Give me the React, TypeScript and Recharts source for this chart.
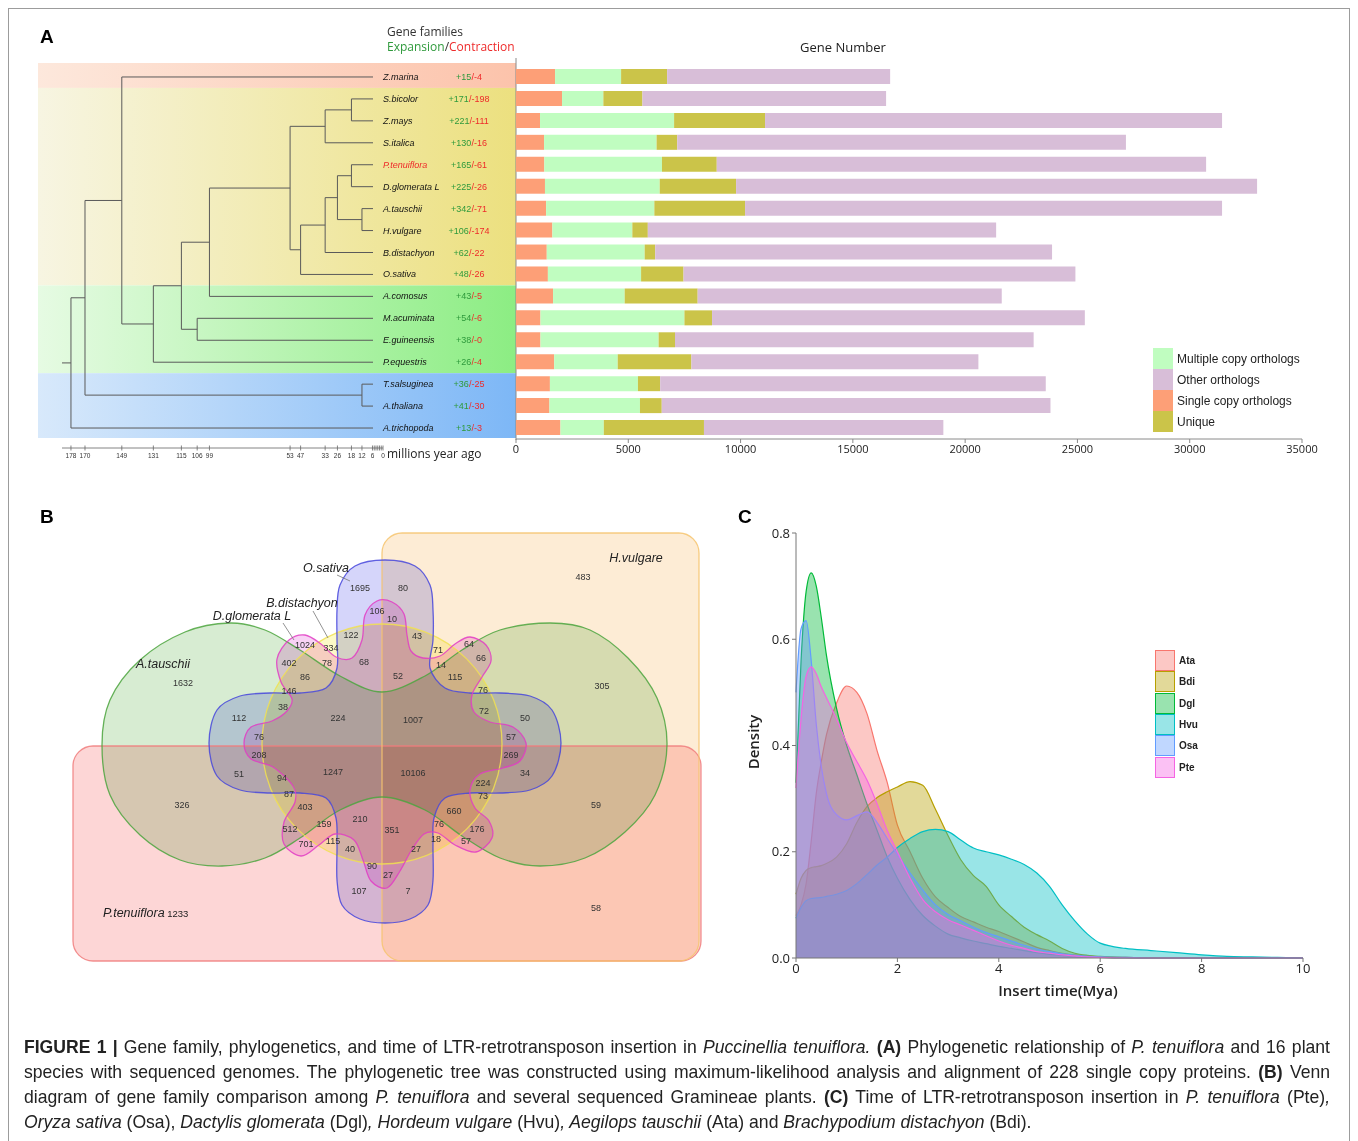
import React from "react";
import { BarChart, Bar, XAxis, YAxis, AreaChart, Area } from "recharts";

const SANS = "'Liberation Sans', Arial, sans-serif";
const UI = "'Open Sans', 'Noto Sans', sans-serif";

// ---------- panel A: gene number per species ----------
const species = [
  "Z.marina", "S.bicolor", "Z.mays", "S.italica", "P.tenuiflora", "D.glomerata L",
  "A.tauschii", "H.vulgare", "B.distachyon", "O.sativa", "A.comosus", "M.acuminata",
  "E.guineensis", "P.equestris", "T.salsuginea", "A.thaliana", "A.trichopoda",
];
const expansion = [15, 171, 221, 130, 165, 225, 342, 106, 62, 48, 43, 54, 38, 26, 36, 41, 13];
const contraction = [4, 198, 111, 16, 61, 26, 71, 174, 22, 26, 5, 6, 0, 4, 25, 30, 3];
const singleCopy = [1740, 2050, 1070, 1250, 1260, 1290, 1340, 1620, 1370, 1420, 1650, 1090, 1090, 1700, 1510, 1490, 1980];
const multipleCopy = [2940, 1840, 5970, 5010, 5240, 5110, 4820, 3560, 4360, 4150, 3190, 6410, 5260, 2830, 3920, 4030, 1930];
const uniqueGenes = [2050, 1740, 4050, 920, 2440, 3400, 4040, 690, 470, 1890, 3250, 1230, 730, 3280, 990, 970, 4460];
const otherOrthologs = [9930, 10850, 20350, 19980, 21790, 23200, 21240, 15510, 17670, 17450, 13540, 16600, 15970, 12780, 17170, 17310, 10660];
const geneTicks = [0, 5000, 10000, 15000, 20000, 25000, 30000, 35000];

// tree: [node, childA, childB, age in Mya]
const treeJoins: [string, string, string, number][] = [
  ["n1", "S.bicolor", "Z.mays", 18],
  ["n2", "n1", "S.italica", 33],
  ["n3", "P.tenuiflora", "D.glomerata L", 18],
  ["n4", "A.tauschii", "H.vulgare", 12],
  ["n5", "n3", "n4", 26],
  ["n6", "n5", "B.distachyon", 33],
  ["n7", "n6", "O.sativa", 47],
  ["n8", "n2", "n7", 53],
  ["n9", "n8", "A.comosus", 99],
  ["n10", "M.acuminata", "E.guineensis", 106],
  ["n11", "n9", "n10", 115],
  ["n12", "n11", "P.equestris", 131],
  ["n13", "Z.marina", "n12", 149],
  ["n14", "T.salsuginea", "A.thaliana", 12],
  ["n15", "n13", "n14", 170],
  ["root", "n15", "A.trichopoda", 178],
];
const timeTicks = [178, 170, 149, 131, 115, 106, 99, 53, 47, 33, 26, 18, 12, 6, 0];
const minorTimeTicks = [5, 4, 3, 2, 1];

// ---------- panel B: venn counts ----------
const vennCounts = [
  1695, 80, 106, 10, 1024, 334, 122, 43, 71, 64, 66, 402, 78, 68, 52, 14, 115, 1632, 86, 146,
  76, 305, 38, 224, 1007, 72, 50, 112, 76, 57, 208, 269, 1247, 10106, 34, 51, 94, 224, 87, 73,
  326, 59, 403, 660, 210, 159, 512, 351, 76, 176, 701, 115, 40, 18, 57, 27, 90, 27, 107, 7, 483, 58,
];

// ---------- panel C: LTR insertion time density ----------
const insertTime = [0, 0.1, 0.2, 0.3, 0.4, 0.5, 0.6, 0.8, 1.0, 1.2, 1.4, 1.6, 1.8, 2.0, 2.25, 2.5, 2.75, 3.0, 3.25, 3.5, 3.75, 4.0, 4.25, 4.5, 4.75, 5.0, 5.25, 5.5, 5.75, 6.0, 6.5, 7.0, 7.5, 8.0, 8.5, 9.0, 9.5, 10];
const ata = [0.08, 0.1, 0.14, 0.22, 0.31, 0.37, 0.42, 0.48, 0.512, 0.5, 0.46, 0.39, 0.33, 0.25, 0.2, 0.15, 0.115, 0.095, 0.078, 0.068, 0.058, 0.05, 0.04, 0.03, 0.02, 0.014, 0.009, 0.006, 0.004, 0.002, 0.001, 0, 0, 0, 0, 0, 0, 0];
const bdi = [0.12, 0.15, 0.165, 0.17, 0.172, 0.174, 0.178, 0.19, 0.215, 0.255, 0.285, 0.302, 0.313, 0.322, 0.332, 0.325, 0.28, 0.23, 0.185, 0.155, 0.135, 0.1, 0.078, 0.058, 0.044, 0.032, 0.018, 0.009, 0.005, 0.003, 0.001, 0, 0, 0, 0, 0, 0, 0];
const dgl = [0.33, 0.56, 0.69, 0.725, 0.7, 0.64, 0.57, 0.47, 0.4, 0.345, 0.29, 0.24, 0.19, 0.15, 0.11, 0.08, 0.06, 0.045, 0.038, 0.032, 0.027, 0.022, 0.018, 0.014, 0.01, 0.007, 0.005, 0.003, 0.002, 0.001, 0, 0, 0, 0, 0, 0, 0, 0];
const hvu = [0.075, 0.095, 0.108, 0.112, 0.113, 0.114, 0.116, 0.12, 0.127, 0.14, 0.157, 0.175, 0.19, 0.208, 0.225, 0.238, 0.242, 0.238, 0.222, 0.207, 0.2, 0.194, 0.186, 0.176, 0.16, 0.135, 0.1, 0.07, 0.045, 0.028, 0.018, 0.014, 0.01, 0.006, 0.003, 0.002, 0.001, 0];
const osa = [0.5, 0.62, 0.635, 0.56, 0.44, 0.36, 0.31, 0.27, 0.26, 0.268, 0.275, 0.255, 0.225, 0.195, 0.16, 0.128, 0.1, 0.082, 0.07, 0.058, 0.048, 0.04, 0.032, 0.024, 0.017, 0.012, 0.008, 0.005, 0.003, 0.002, 0.001, 0, 0, 0, 0, 0, 0, 0];
const pte = [0.32, 0.45, 0.53, 0.548, 0.535, 0.51, 0.49, 0.45, 0.405, 0.37, 0.335, 0.29, 0.24, 0.2, 0.15, 0.11, 0.087, 0.072, 0.062, 0.052, 0.042, 0.032, 0.024, 0.018, 0.012, 0.009, 0.006, 0.004, 0.002, 0.001, 0, 0, 0, 0, 0, 0, 0, 0];
const densitySeries = [
  { key: "Ata", values: ata, color: "#F8766D" },
  { key: "Bdi", values: bdi, color: "#B79F00" },
  { key: "Dgl", values: dgl, color: "#00BA38" },
  { key: "Hvu", values: hvu, color: "#00BFC4" },
  { key: "Osa", values: osa, color: "#619CFF" },
  { key: "Pte", values: pte, color: "#F564E3" },
];

const barRows = species.map((name, i) => ({
  name,
  single: singleCopy[i],
  multiple: multipleCopy[i],
  unique: uniqueGenes[i],
  other: otherOrthologs[i],
}));
const densityRows = insertTime.map((t, i) => {
  const row: Record<string, number> = { t };
  densitySeries.forEach((s) => (row[s.key] = s.values[i]));
  return row;
});

// ---------- layout ----------
const ROW_TOP = 66;
const ROW_H = 373 / species.length;
const rowY = (i: number) => ROW_TOP + (i + 0.5) * ROW_H;
const tx = (t: number) => 383 - t * 1.753;
const TIP_X = 373;

const vennSpots = [
  [360, 588], [403, 588], [377, 611], [392, 619], [305, 645], [331, 648], [351, 635], [417, 636], [438, 650], [469, 644],
  [481, 658], [289, 663], [327, 663], [364, 662], [398, 676], [441, 665], [455, 677], [183, 683], [305, 677], [289, 691],
  [483, 690], [602, 686], [283, 707], [338, 718], [413, 720], [484, 711], [525, 718], [239, 718], [259, 737], [511, 737],
  [259, 755], [511, 755], [333, 772], [413, 773], [525, 773], [239, 774], [282, 778], [483, 783], [289, 794], [483, 796],
  [182, 805], [596, 805], [305, 807], [454, 811], [360, 819], [324, 824], [290, 829], [392, 830], [439, 824], [477, 829],
  [306, 844], [333, 841], [350, 849], [436, 839], [466, 841], [416, 849], [372, 866], [388, 875], [359, 891], [408, 891],
  [583, 577], [596, 908],
];

const greenOutline = [
  [382, 692], [340, 676], [300, 650], [265, 630], [230, 623], [185, 632], [140, 660], [110, 700], [102, 745], [110, 795],
  [140, 835], [180, 860], [222, 866], [265, 858], [300, 838], [340, 810], [382, 797], [425, 810], [462, 836], [500, 858],
  [540, 866], [585, 858], [625, 832], [655, 795], [667, 745], [657, 698], [628, 658], [590, 630], [550, 623], [500, 630],
  [462, 650], [425, 676],
];
const blueOutline = [
  [385, 560], [415, 566], [430, 585], [433, 610], [433, 640], [430, 668], [445, 688], [470, 693], [500, 693], [530, 696],
  [552, 710], [561, 743], [552, 776], [530, 790], [500, 793], [470, 793], [445, 798], [434, 818], [433, 845], [433, 880],
  [428, 905], [410, 919], [385, 923], [360, 919], [342, 905], [337, 880], [337, 845], [336, 818], [326, 798], [300, 793],
  [270, 793], [240, 790], [217, 776], [209, 743], [217, 710], [240, 696], [270, 693], [300, 693], [326, 688], [337, 668],
  [337, 640], [337, 610], [340, 585], [355, 566],
];
const magentaOutline = [
  [377, 601], [392, 602], [404, 614], [407, 635], [411, 651], [423, 658], [440, 656], [455, 644], [470, 637], [486, 645],
  [491, 661], [482, 677], [472, 695], [474, 712], [490, 722], [513, 727], [526, 743], [520, 761], [503, 768], [480, 774],
  [470, 790], [475, 808], [489, 821], [492, 838], [476, 852], [455, 845], [438, 833], [424, 834], [411, 851], [400, 871],
  [387, 888], [371, 881], [363, 860], [354, 840], [335, 834], [319, 845], [301, 856], [284, 844], [284, 822], [295, 802],
  [293, 786], [273, 767], [251, 759], [244, 743], [251, 727], [272, 721], [287, 711], [292, 699], [281, 682], [277, 659],
  [289, 640], [305, 635], [321, 644], [336, 657], [352, 658], [362, 640], [365, 615],
];

function smoothPath(pts: number[][]) {
  const n = pts.length;
  let d = `M${pts[0][0]},${pts[0][1]}`;
  for (let i = 0; i < n; i++) {
    const p0 = pts[(i - 1 + n) % n], p1 = pts[i], p2 = pts[(i + 1) % n], p3 = pts[(i + 2) % n];
    const c1x = p1[0] + (p2[0] - p0[0]) / 6, c1y = p1[1] + (p2[1] - p0[1]) / 6;
    const c2x = p2[0] - (p3[0] - p1[0]) / 6, c2y = p2[1] - (p3[1] - p1[1]) / 6;
    d += ` C${c1x.toFixed(1)},${c1y.toFixed(1)} ${c2x.toFixed(1)},${c2y.toFixed(1)} ${p2[0]},${p2[1]}`;
  }
  return d + " Z";
}

const bands = [
  { y0: 63, y1: rowY(0) + ROW_H / 2, from: "#fde8dc", to: "#fcc3ab" },
  { y0: rowY(0) + ROW_H / 2, y1: rowY(9) + ROW_H / 2, from: "#f7f5e2", to: "#ece07f" },
  { y0: rowY(9) + ROW_H / 2, y1: rowY(13) + ROW_H / 2, from: "#e6fbe3", to: "#8ced83" },
  { y0: rowY(13) + ROW_H / 2, y1: 438, from: "#d8e9fb", to: "#7db7f6" },
];

function TreePanel() {
  const pos: Record<string, { x: number; y: number }> = {};
  species.forEach((s, i) => (pos[s] = { x: TIP_X, y: rowY(i) }));
  const segs: React.ReactNode[] = [];
  treeJoins.forEach(([id, a, b, age]) => {
    const x = tx(age);
    const A = pos[a], B = pos[b];
    pos[id] = { x, y: (A.y + B.y) / 2 };
    segs.push(<line key={id + "v"} x1={x} y1={A.y} x2={x} y2={B.y} />);
    segs.push(<line key={id + "a"} x1={x} y1={A.y} x2={A.x} y2={A.y} />);
    segs.push(<line key={id + "b"} x1={x} y1={B.y} x2={B.x} y2={B.y} />);
  });
  const root = pos["root"];
  return (
    <svg width={530} height={470} style={{ position: "absolute", left: 0, top: 0 }}>
      <defs>
        {bands.map((b, i) => (
          <linearGradient key={i} id={"band" + i} x1="0" x2="1" y1="0" y2="0">
            <stop offset="0%" stopColor={b.from} />
            <stop offset="100%" stopColor={b.to} />
          </linearGradient>
        ))}
      </defs>
      {bands.map((b, i) => (
        <rect key={i} x={38} y={b.y0} width={478} height={b.y1 - b.y0} fill={`url(#band${i})`} />
      ))}
      <line x1={516} y1={58} x2={516} y2={440} stroke="#8a8a8a" strokeWidth={1} />
      <g stroke="#5a5a5a" strokeWidth={1}>
        {segs}
        <line x1={62} y1={root.y} x2={root.x} y2={root.y} />
      </g>
      {species.map((s, i) => (
        <g key={s} fontFamily={SANS} fontSize={9}>
          <text x={383} y={rowY(i) + 3} fontStyle="italic" fill={s === "P.tenuiflora" ? "#ee2a2a" : "#111"}>
            {s}
          </text>
          <text x={469} y={rowY(i) + 3} textAnchor="middle">
            <tspan fill="#2f9a3c">+{expansion[i]}</tspan>
            <tspan fill="#ee2a2a">/-{contraction[i]}</tspan>
          </text>
        </g>
      ))}
      <g stroke="#666" strokeWidth={0.8}>
        <line x1={62} y1={448} x2={383} y2={448} />
        {timeTicks.concat(minorTimeTicks).map((t) => (
          <line key={t} x1={tx(t)} y1={445.5} x2={tx(t)} y2={450.5} />
        ))}
      </g>
      {timeTicks.map((t) => (
        <text key={t} x={tx(t)} y={458} fontSize={6.5} textAnchor="middle" fill="#333" fontFamily={SANS}>
          {t}
        </text>
      ))}
      <text x={387} y={458} fontSize={12} fill="#222" fontFamily={UI}>millions year ago</text>
      <text x={387} y={36} fontSize={12} fill="#333" fontFamily={UI}>Gene families</text>
      <text x={387} y={51} fontSize={12} fontFamily={UI}>
        <tspan fill="#2f9a3c">Expansion</tspan>
        <tspan fill="#333">/</tspan>
        <tspan fill="#ee2a2a">Contraction</tspan>
      </text>
    </svg>
  );
}

const vennShapes = [
  { kind: "rect", x: 73, y: 746, w: 628, h: 215, fill: "#fcc8c8", stroke: "#f07c7c" },
  { kind: "rect", x: 382, y: 533, w: 317, h: 428, fill: "#fde6c6", stroke: "#f6c46e" },
  { kind: "path", d: smoothPath(greenOutline), fill: "#c9e6c2", stroke: "#4ca43e" },
  { kind: "circle", cx: 382, cy: 744, r: 120, fill: "#fbf7b4", stroke: "#f1e050" },
  { kind: "path", d: smoothPath(blueOutline), fill: "#c6c6f8", stroke: "#4646dc" },
  { kind: "path", d: smoothPath(magentaOutline), fill: "#f6c2f2", stroke: "#e23cc4" },
];

function shapeEl(s: any, i: number, mode: "fill" | "stroke") {
  const p =
    mode === "fill"
      ? { fill: s.fill, stroke: "none", style: { mixBlendMode: "multiply" as const }, opacity: 0.74 }
      : { fill: "none", stroke: s.stroke, strokeWidth: 1.3, opacity: 0.85 };
  if (s.kind === "rect") return <rect key={mode + i} x={s.x} y={s.y} width={s.w} height={s.h} rx={20} {...p} />;
  if (s.kind === "circle") return <circle key={mode + i} cx={s.cx} cy={s.cy} r={s.r} {...p} />;
  return <path key={mode + i} d={s.d} {...p} />;
}

function VennPanel() {
  return (
    <svg width={720} height={480} style={{ position: "absolute", left: 0, top: 500 }}>
      <g transform="translate(0,-500)">
        <g style={{ isolation: "isolate" }}>{vennShapes.map((s, i) => shapeEl(s, i, "fill"))}</g>
        {vennShapes.map((s, i) => shapeEl(s, i, "stroke"))}
        {vennCounts.map((c, i) => (
          <text key={i} x={vennSpots[i][0]} y={vennSpots[i][1] + 3} fontSize={9} textAnchor="middle" fill="#333" fontFamily={SANS}>
            {c}
          </text>
        ))}
        <g fontFamily={SANS} fontStyle="italic" fontSize={12.5} fill="#222" textAnchor="middle">
          <text x={326} y={572}>O.sativa</text>
          <text x={302} y={607}>B.distachyon</text>
          <text x={252} y={620}>D.glomerata L</text>
          <text x={163} y={668}>A.tauschii</text>
          <text x={636} y={562}>H.vulgare</text>
        </g>
        <text x={103} y={917} fontFamily={SANS} fontSize={12.5} fill="#222">
          <tspan fontStyle="italic">P.tenuiflora</tspan>
          <tspan fontSize={9.5}> 1233</tspan>
        </text>
        <g stroke="#777" strokeWidth={0.8}>
          <line x1={337} y1={575} x2={350} y2={581} />
          <line x1={313} y1={611} x2={328} y2={638} />
          <line x1={283} y1={623} x2={294} y2={640} />
        </g>
      </g>
    </svg>
  );
}

const barSeries = [
  { key: "single", color: "#fd9f77" },
  { key: "multiple", color: "#c0fdc0" },
  { key: "unique", color: "#cbc449" },
  { key: "other", color: "#d8bed8" },
];
const barLegend = [
  { label: "Multiple copy orthologs", color: "#c0fdc0" },
  { label: "Other orthologs", color: "#d8bed8" },
  { label: "Single copy orthologs", color: "#fd9f77" },
  { label: "Unique", color: "#cbc449" },
];

const captionLines: { t: string; s?: "b" | "i" }[][] = [
  [
    { t: "FIGURE 1 |", s: "b" },
    { t: " Gene family, phylogenetics, and time of LTR-retrotransposon insertion in " },
    { t: "Puccinellia tenuiflora.", s: "i" },
    { t: " " },
    { t: "(A)", s: "b" },
    { t: " Phylogenetic relationship of " },
    { t: "P. tenuiflora", s: "i" },
    { t: " and 16 plant" },
  ],
  [
    { t: "species with sequenced genomes. The phylogenetic tree was constructed using maximum-likelihood analysis and alignment of 228 single copy proteins. " },
    { t: "(B)", s: "b" },
    { t: " Venn" },
  ],
  [
    { t: "diagram of gene family comparison among " },
    { t: "P. tenuiflora", s: "i" },
    { t: " and several sequenced Gramineae plants. " },
    { t: "(C)", s: "b" },
    { t: " Time of LTR-retrotransposon insertion in " },
    { t: "P. tenuiflora", s: "i" },
    { t: " (Pte)" },
    { t: ",", s: "i" },
  ],
  [
    { t: "Oryza sativa", s: "i" },
    { t: " (Osa), " },
    { t: "Dactylis glomerata", s: "i" },
    { t: " (Dgl)" },
    { t: ", Hordeum vulgare", s: "i" },
    { t: " (Hvu)" },
    { t: ", Aegilops tauschii", s: "i" },
    { t: " (Ata) and " },
    { t: "Brachypodium distachyon", s: "i" },
    { t: " (Bdi)." },
  ],
];
const CAP_SCALE = 0.95;

export default function App() {
  return (
    <div style={{ position: "absolute", left: 0, top: 0, width: 1358, height: 1141, background: "#fff", overflow: "hidden", fontFamily: SANS }}>
      <div style={{ position: "absolute", left: 8, top: 8, width: 1340, height: 1200, border: "1px solid #9c9c9c" }} />

      {/* Panel A */}
      <div style={{ position: "absolute", left: 40, top: 26, fontSize: 19, fontWeight: 700, fontFamily: SANS }}>A</div>
      <TreePanel />
      <div style={{ position: "absolute", left: 843, top: 38, transform: "translateX(-50%)", fontSize: 13, color: "#222", fontFamily: UI }}>
        Gene Number
      </div>
      <div style={{ position: "absolute", left: 506, top: 61 }}>
        <BarChart width={816} height={408} data={barRows} layout="vertical" margin={{ top: 5, right: 20, left: 10, bottom: 0 }}>
          <XAxis
            type="number"
            domain={[0, 35000]}
            ticks={geneTicks}
            interval={0}
            height={30}
            tickSize={4}
            tick={{ fontSize: 11, fill: "#222", fontFamily: UI }}
            axisLine={{ stroke: "#8a8a8a" }}
            tickLine={{ stroke: "#8a8a8a" }}
          />
          <YAxis type="category" dataKey="name" hide />
          {barSeries.map((s) => (
            <Bar key={s.key} dataKey={s.key} stackId="g" fill={s.color} barSize={15} isAnimationActive={false} />
          ))}
        </BarChart>
      </div>
      {barLegend.map((l, i) => (
        <div key={l.label} style={{ position: "absolute", left: 1153, top: 348 + i * 21, height: 21, display: "flex", alignItems: "center" }}>
          <div style={{ width: 20, height: 21, background: l.color }} />
          <span style={{ marginLeft: 4, fontSize: 12, color: "#222", fontFamily: SANS }}>{l.label}</span>
        </div>
      ))}

      {/* Panel B */}
      <div style={{ position: "absolute", left: 40, top: 506, fontSize: 19, fontWeight: 700, fontFamily: SANS }}>B</div>
      <VennPanel />

      {/* Panel C */}
      <div style={{ position: "absolute", left: 738, top: 506, fontSize: 19, fontWeight: 700, fontFamily: SANS }}>C</div>
      <div style={{ position: "absolute", left: 746, top: 523 }}>
        <AreaChart width={577} height={475} data={densityRows} margin={{ top: 10, right: 20, left: 10, bottom: 0 }}>
          <XAxis
            type="number"
            dataKey="t"
            domain={[0, 10]}
            ticks={[0, 2, 4, 6, 8, 10]}
            interval={0}
            height={40}
            tickSize={4}
            tick={{ fontSize: 13, fill: "#222", fontFamily: UI }}
            axisLine={{ stroke: "#777" }}
            tickLine={{ stroke: "#777" }}
          />
          <YAxis
            type="number"
            domain={[0, 0.8]}
            ticks={[0, 0.2, 0.4, 0.6, 0.8]}
            interval={0}
            width={40}
            tickSize={4}
            tickFormatter={(v: number) => v.toFixed(1)}
            tick={{ fontSize: 13, fill: "#222", fontFamily: UI }}
            axisLine={{ stroke: "#777" }}
            tickLine={{ stroke: "#777" }}
          />
          {densitySeries.map((s) => (
            <Area
              key={s.key}
              type="monotone"
              dataKey={s.key}
              stroke={s.color}
              strokeWidth={1.2}
              fill={s.color}
              fillOpacity={0.4}
              dot={false}
              activeDot={false}
              isAnimationActive={false}
            />
          ))}
        </AreaChart>
      </div>
      <div style={{ position: "absolute", left: 753, top: 742, transform: "translate(-50%,-50%) rotate(-90deg)", fontSize: 15, color: "#222", fontFamily: UI, fontWeight: 600, whiteSpace: "nowrap" }}>
        Density
      </div>
      <div style={{ position: "absolute", left: 1058, top: 990, transform: "translate(-50%,-50%)", fontSize: 15, color: "#222", fontFamily: UI, fontWeight: 600, whiteSpace: "nowrap" }}>
        Insert time(Mya)
      </div>
      {densitySeries.map((s, i) => (
        <div key={s.key} style={{ position: "absolute", left: 1155, top: 650 + i * 21.3, height: 21.3, display: "flex", alignItems: "center" }}>
          <div style={{ width: 18, height: 19, border: `1.5px solid ${s.color}`, background: s.color + "66" }} />
          <span style={{ marginLeft: 4, fontSize: 10, fontWeight: 700, color: "#222", fontFamily: SANS }}>{s.key}</span>
        </div>
      ))}

      {/* Caption */}
      {captionLines.map((line, li) => (
        <div
          key={li}
          style={{
            position: "absolute",
            left: 24,
            top: 1036 + li * 25,
            width: li < 3 ? 1306 / CAP_SCALE : undefined,
            transform: `scaleX(${CAP_SCALE})`,
            transformOrigin: "0 0",
            whiteSpace: "nowrap",
            fontSize: 18.5,
            lineHeight: "22px",
            color: "#222",
            fontFamily: SANS,
            textAlign: li < 3 ? "justify" : "left",
            textAlignLast: li < 3 ? "justify" : "left",
          }}
        >
          {line.map((seg, si) => (
            <span key={si} style={{ fontWeight: seg.s === "b" ? 700 : 400, fontStyle: seg.s === "i" ? "italic" : "normal" }}>
              {seg.t}
            </span>
          ))}
        </div>
      ))}
    </div>
  );
}
